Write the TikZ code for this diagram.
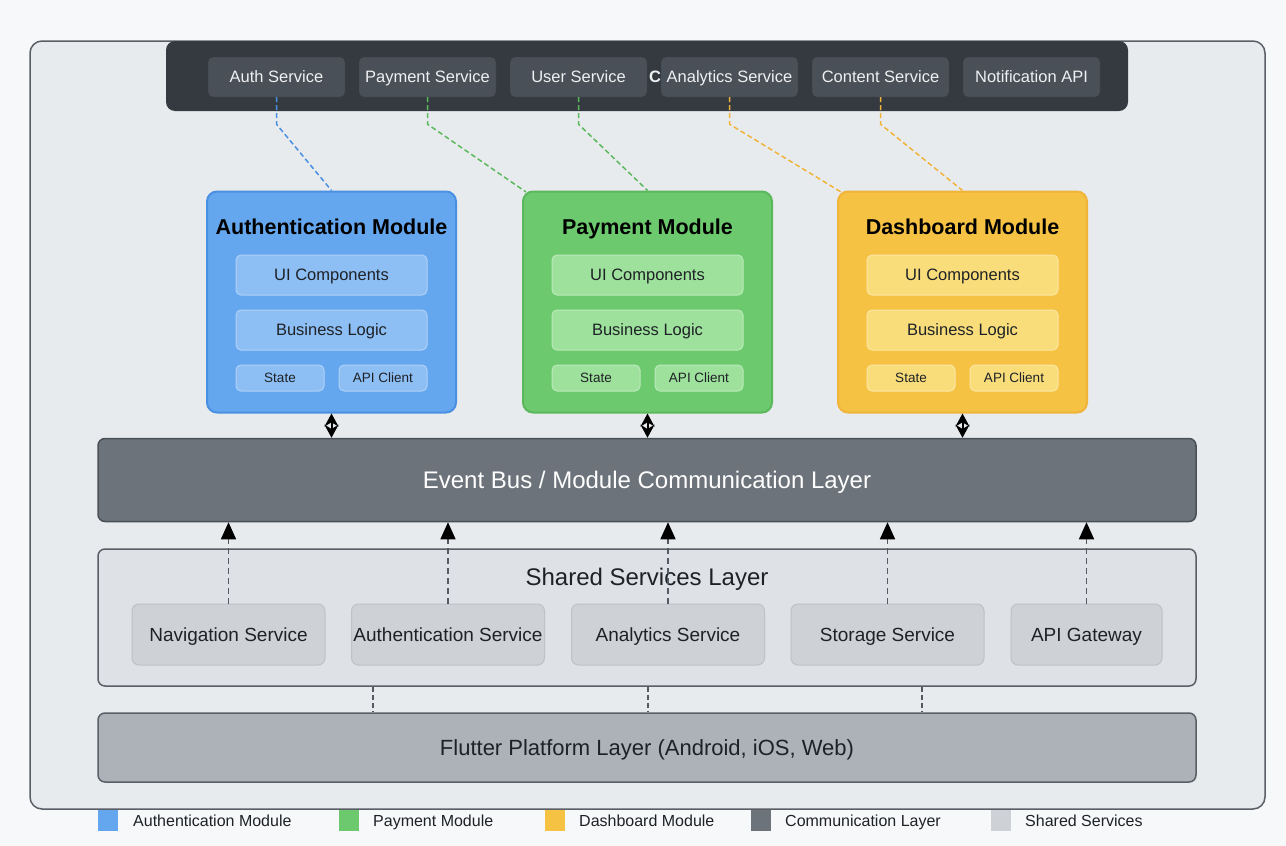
\documentclass[tikz,border=0pt]{standalone}
\usepackage{fontspec}
\setmainfont{Liberation Sans}
\usetikzlibrary{arrows.meta}
\definecolor{pagebg}{HTML}{F7F8FA}
\definecolor{framefill}{HTML}{E8EBEE}
\definecolor{frameline}{HTML}{5A5F66}
\definecolor{barfill}{HTML}{343A40}
\definecolor{svcfill}{HTML}{495057}
\definecolor{svcline}{HTML}{3A3F45}
\definecolor{svctext}{HTML}{EEF0F2}
\definecolor{authfill}{HTML}{64A7EF}
\definecolor{authline}{HTML}{4A90E2}
\definecolor{authin}{HTML}{8DBEF4}
\definecolor{payfill}{HTML}{6DC96E}
\definecolor{payline}{HTML}{5CB85C}
\definecolor{payin}{HTML}{9EE19C}
\definecolor{dashfill}{HTML}{F5C243}
\definecolor{dashline}{HTML}{F0B43A}
\definecolor{dashin}{HTML}{F9DD7B}
\definecolor{busfill}{HTML}{6C737B}
\definecolor{busline}{HTML}{4A5057}
\definecolor{shfill}{HTML}{DEE1E5}
\definecolor{shsvcfill}{HTML}{CED2D7}
\definecolor{shsvcline}{HTML}{BEC2C7}
\definecolor{flfill}{HTML}{ADB2B8}
\definecolor{darktext}{HTML}{1E2226}
\definecolor{dashgray}{HTML}{555A60}
\newcommand{\fsz}[1]{\fontsize{#1}{#1}\selectfont}
\tikzset{
  txt/.style={text height=#1, text depth=0pt},
  frame/.style={draw=frameline, line width=1.5, fill=framefill, rounded corners=12},
  topsvc/.style={txt=11.55pt, draw=svcline, fill=svcfill, rounded corners=5, minimum width=137, minimum height=40, inner sep=0, text=svctext, font=\fsz{16.5}},
  module/.style={rounded corners=10, line width=2, minimum width=249, minimum height=221, inner sep=0},
  modtitle/.style={txt=15.05pt, font=\bfseries\fsz{21.5}, text=black, inner sep=0},
  innerbox/.style={txt=11.55pt, rounded corners=5, minimum height=40, minimum width=191, inner sep=0, font=\fsz{16.5}, text=darktext, line width=1},
  smallbox/.style={txt=9.45pt, rounded corners=5, minimum height=26, minimum width=88, inner sep=0, font=\fsz{13.5}, text=darktext, line width=1},
  layer/.style={rounded corners=7, line width=1.5, draw=frameline, minimum width=1098, inner sep=0},
  shsvc/.style={txt=13.3pt, fill=shsvcfill, draw=shsvcline, line width=1, rounded corners=7, minimum height=61, minimum width=193, inner sep=0, font=\fsz{19}, text=darktext},
  conn/.style={dash pattern=on 5 off 3, line width=1.5},
  upar/.style={draw=dashgray, dash pattern=on 6 off 4, line width=1.5, -{Triangle[length=17,width=15,color=black]}},
  vline/.style={draw=dashgray, dash pattern=on 5 off 3, line width=1.5},
  biar/.style={line width=2, {Stealth[length=13,width=14]}-{Stealth[length=13,width=14]}},
  legsq/.style={minimum width=20, minimum height=21, inner sep=0},
  legtx/.style={txt=11.2pt, anchor=west, font=\fsz{16}, text=darktext, inner sep=0},
}
\begin{document}
\begin{tikzpicture}[x=1pt,y=-1pt]
\useasboundingbox (0,0) rectangle (1286,846);
\fill[pagebg] (0,0) rectangle (1286,846);
% outer frame
\draw[frame] (30,41) rectangle (1265,809);
% top bar
\node[fill=barfill, rounded corners=9, minimum width=962, minimum height=70, inner sep=0] (bar) at (647,76) {};
\node[topsvc] (s1) at (276.5,77) {Auth Service};
\node[topsvc] (s2) at (427.5,77) {Payment Service};
\node[topsvc] (s3) at (578.5,77) {User Service};
\node[txt=11.55pt, font=\bfseries\fsz{16.5}, text=svctext, inner sep=0] (ctxt) at (655,77) {C};
\node[topsvc] (s4) at (729.5,77) {Analytics Service};
\node[topsvc] (s5) at (880.5,77) {Content Service};
\node[topsvc] (s6) at (1031.5,77) {Notification API};
% modules
\node[module, fill=authfill, draw=authline] (amod) at (331.5,302) {};
\node[modtitle] (at) at (331.5,227) {Authentication Module};
\node[innerbox, fill=authin, draw=authin!70!white] (aui) at (331.5,275) {UI Components};
\node[innerbox, fill=authin, draw=authin!70!white] (abl) at (331.5,330) {Business Logic};
\node[smallbox, fill=authin, draw=authin!70!white] (ast) at (280,378) {State};
\node[smallbox, fill=authin, draw=authin!70!white] (aap) at (383,378) {API Client};

\node[module, fill=payfill, draw=payline] (pmod) at (647.5,302) {};
\node[modtitle] (pt) at (647.5,227) {Payment Module};
\node[innerbox, fill=payin, draw=payin!70!white] (pui) at (647.5,275) {UI Components};
\node[innerbox, fill=payin, draw=payin!70!white] (pbl) at (647.5,330) {Business Logic};
\node[smallbox, fill=payin, draw=payin!70!white] (pst) at (596,378) {State};
\node[smallbox, fill=payin, draw=payin!70!white] (pap) at (699,378) {API Client};

\node[module, fill=dashfill, draw=dashline] (dmod) at (962.5,302) {};
\node[modtitle] (dt) at (962.5,227) {Dashboard Module};
\node[innerbox, fill=dashin, draw=dashin!70!white] (dui) at (962.5,275) {UI Components};
\node[innerbox, fill=dashin, draw=dashin!70!white] (dbl) at (962.5,330) {Business Logic};
\node[smallbox, fill=dashin, draw=dashin!70!white] (dst) at (911,378) {State};
\node[smallbox, fill=dashin, draw=dashin!70!white] (dap) at (1014,378) {API Client};

% service -> module connectors
\coordinate (pL) at (526,192);
\coordinate (dL) at (841,192);
\draw[conn, draw=authline] (s1.south) -- ++(0,27) -- (amod.north);
\draw[conn, draw=payline] (s2.south) -- ++(0,27) -- (pL);
\draw[conn, draw=payline] (s3.south) -- ++(0,27) -- (pmod.north);
\draw[conn, draw=dashline] (s4.south) -- ++(0,27) -- (dL);
\draw[conn, draw=dashline] (s5.south) -- ++(0,27) -- (dmod.north);

% event bus
\node[layer, txt=16.8pt, fill=busfill, draw=busline, minimum height=83, text=white, font=\fsz{24}] (bus) at (647,480) {Event Bus / Module Communication Layer};
\draw[biar] (amod.south) -- (amod.south |- bus.north);
\draw[biar] (pmod.south) -- (pmod.south |- bus.north);
\draw[biar] (dmod.south) -- (dmod.south |- bus.north);

% shared services
\node[layer, fill=shfill, minimum height=137] (shared) at (647,617.5) {};
\node[txt=16.8pt, font=\fsz{24}, text=darktext, inner sep=0] (shtitle) at (647,577) {Shared Services Layer};
\node[shsvc] (n1) at (228.5,634.5) {Navigation Service};
\node[shsvc] (n2) at (448,634.5) {Authentication Service};
\node[shsvc] (n3) at (668,634.5) {Analytics Service};
\node[shsvc] (n4) at (887.5,634.5) {Storage Service};
\node[shsvc, minimum width=151] (n5) at (1086.5,634.5) {API Gateway};
\foreach \n in {n1,n2,n3,n4,n5}{
  \draw[upar] (\n.north) -- (\n.north |- bus.south);
}

% flutter
\node[layer, txt=15.4pt, fill=flfill, minimum height=69, font=\fsz{22}, text=darktext] (flutter) at (647,747.5) {Flutter Platform Layer (Android, iOS, Web)};
\coordinate (x1) at (373,0);
\coordinate (x2) at (648,0);
\coordinate (x3) at (922,0);
\foreach \c in {x1,x2,x3}{
  \draw[vline] (shared.south -| \c) -- (flutter.north -| \c);
}

% legend
\node[legsq, fill=authfill] (l1) at (108,820.5) {};
\node[legtx] (t1) at (133,820.5) {Authentication Module};
\node[legsq, fill=payfill] (l2) at (349,820.5) {};
\node[legtx] (t2) at (373,820.5) {Payment Module};
\node[legsq, fill=dashfill] (l3) at (555,820.5) {};
\node[legtx] (t3) at (579,820.5) {Dashboard Module};
\node[legsq, fill=busfill] (l4) at (761,820.5) {};
\node[legtx] (t4) at (785,820.5) {Communication Layer};
\node[legsq, fill=shsvcfill] (l5) at (1001,820.5) {};
\node[legtx] (t5) at (1025,820.5) {Shared Services};
\end{tikzpicture}
\end{document}
